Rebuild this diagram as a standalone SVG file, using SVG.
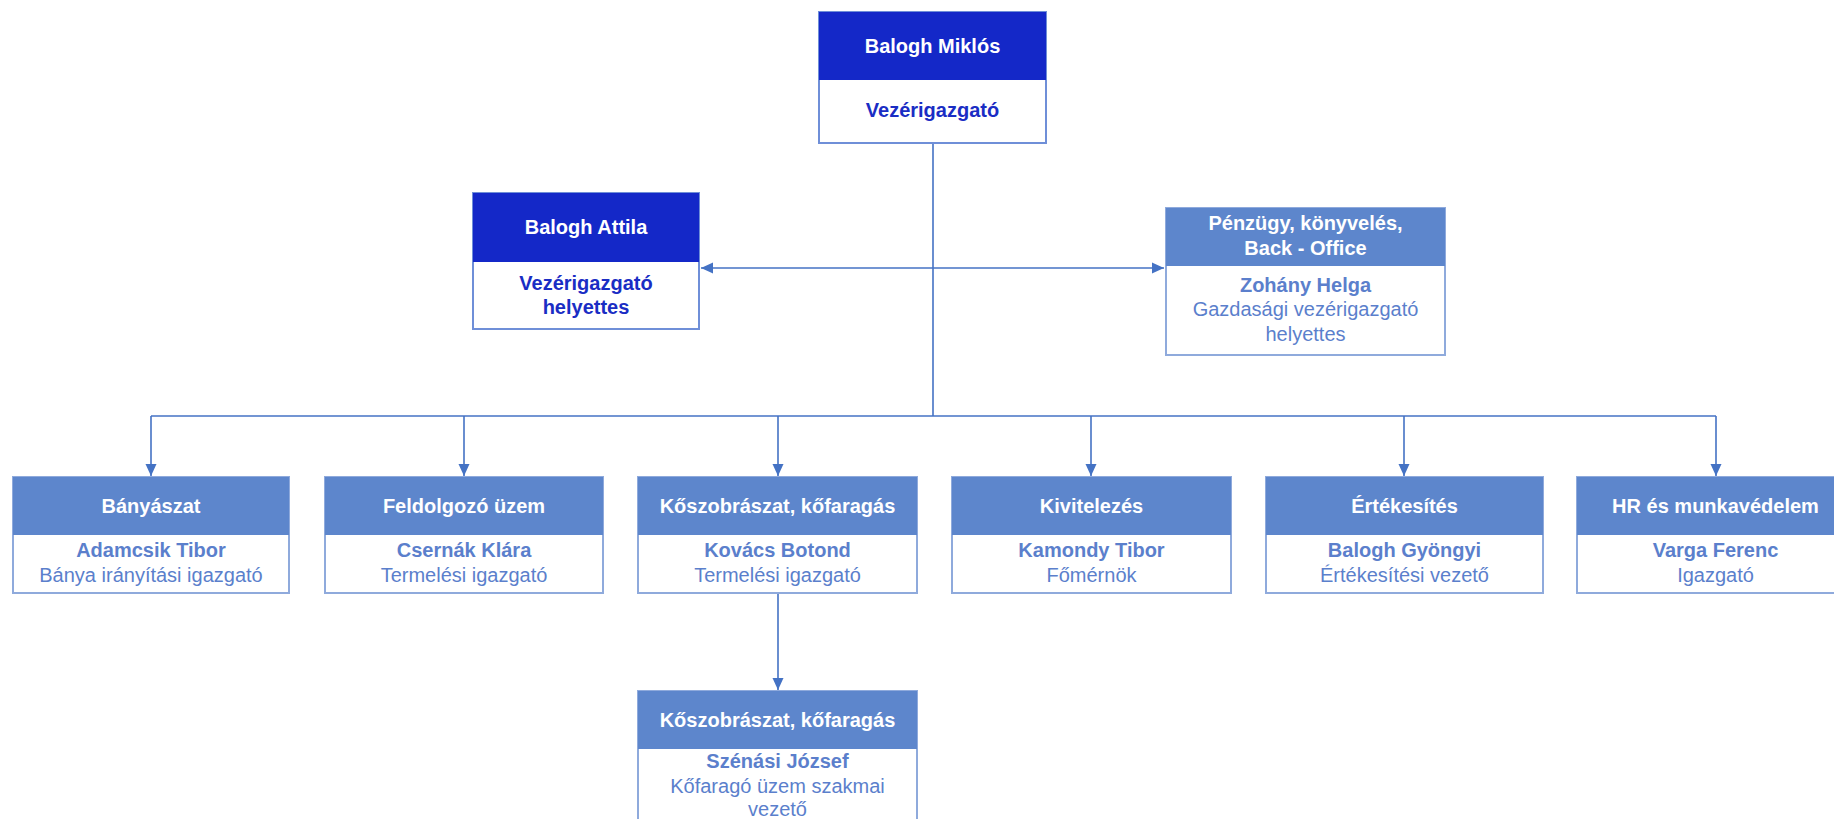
<svg xmlns="http://www.w3.org/2000/svg" width="1834" height="819" viewBox="0 0 1834 819">
<defs>
<marker id="arr" viewBox="0 0 12 12" refX="12" refY="6" markerWidth="12" markerHeight="12" markerUnits="userSpaceOnUse" orient="auto-start-reverse">
<path d="M0,0.5 L12,6 L0,11.5 Z" fill="#4472C4"/>
</marker>
<style>
.hd-dark{fill:#1428C8}
.hd{fill:#5D86CC}
.bx{fill:#ffffff;stroke:#8FAADC;stroke-width:2}
.bxd{fill:#ffffff;stroke:#6F8FD8;stroke-width:2}
text{font-family:"Liberation Sans",Arial,sans-serif;font-size:20px;text-anchor:middle}
.w{fill:#ffffff;font-weight:bold}
.db{fill:#1A2DC4;font-weight:bold}
.nm{fill:#5B7FCC;font-weight:bold}
.ti{fill:#5B7FCC}
.cn{fill:none;stroke:#4472C4;stroke-width:1.6}
</style>
</defs>
<rect width="1834" height="819" fill="#ffffff"/>

<g id="connectors">
<path class="cn" d="M933,143 V416"/>
<path class="cn" d="M701,268 H1164" marker-start="url(#arr)" marker-end="url(#arr)"/>
<path class="cn" d="M151,416 H1716"/>
<path class="cn" d="M151,416 V476" marker-end="url(#arr)"/>
<path class="cn" d="M464,416 V476" marker-end="url(#arr)"/>
<path class="cn" d="M778,416 V476" marker-end="url(#arr)"/>
<path class="cn" d="M1091,416 V476" marker-end="url(#arr)"/>
<path class="cn" d="M1404,416 V476" marker-end="url(#arr)"/>
<path class="cn" d="M1716,416 V476" marker-end="url(#arr)"/>
<path class="cn" d="M778,593 V690" marker-end="url(#arr)"/>
</g>

<g id="node-ceo">
<rect class="bxd" x="819" y="12" width="227" height="131"/>
<rect class="hd-dark" x="819" y="12" width="227" height="68"/>
<text class="w" x="932.5" y="53">Balogh Miklós</text>
<text class="db" x="932.5" y="117">Vezérigazgató</text>
</g>

<g id="node-deputy">
<rect class="bxd" x="473" y="193" width="226" height="136"/>
<rect class="hd-dark" x="473" y="193" width="226" height="69"/>
<text class="w" x="586" y="234">Balogh Attila</text>
<text class="db" x="586" y="290">Vezérigazgató</text>
<text class="db" x="586" y="314">helyettes</text>
</g>

<g id="node-finance">
<rect class="bx" x="1166" y="208" width="279" height="147"/>
<rect class="hd" x="1166" y="208" width="279" height="58"/>
<text class="w" x="1305.5" y="230">Pénzügy, könyvelés,</text>
<text class="w" x="1305.5" y="255">Back - Office</text>
<text class="nm" x="1305.5" y="292">Zohány Helga</text>
<text class="ti" x="1305.5" y="316">Gazdasági vezérigazgató</text>
<text class="ti" x="1305.5" y="341">helyettes</text>
</g>

<g id="node-banyaszat">
<rect class="bx" x="13" y="477" width="276" height="116"/>
<rect class="hd" x="13" y="477" width="276" height="58"/>
<text class="w" x="151" y="513">Bányászat</text>
<text class="nm" x="151" y="557">Adamcsik Tibor</text>
<text class="ti" x="151" y="582">Bánya irányítási igazgató</text>
</g>

<g id="node-feldolgozo">
<rect class="bx" x="325" y="477" width="278" height="116"/>
<rect class="hd" x="325" y="477" width="278" height="58"/>
<text class="w" x="464" y="513">Feldolgozó üzem</text>
<text class="nm" x="464" y="557">Csernák Klára</text>
<text class="ti" x="464" y="582">Termelési igazgató</text>
</g>

<g id="node-koszobraszat">
<rect class="bx" x="638" y="477" width="279" height="116"/>
<rect class="hd" x="638" y="477" width="279" height="58"/>
<text class="w" x="777.5" y="513">Kőszobrászat, kőfaragás</text>
<text class="nm" x="777.5" y="557">Kovács Botond</text>
<text class="ti" x="777.5" y="582">Termelési igazgató</text>
</g>

<g id="node-kivitelezes">
<rect class="bx" x="952" y="477" width="279" height="116"/>
<rect class="hd" x="952" y="477" width="279" height="58"/>
<text class="w" x="1091.5" y="513">Kivitelezés</text>
<text class="nm" x="1091.5" y="557">Kamondy Tibor</text>
<text class="ti" x="1091.5" y="582">Főmérnök</text>
</g>

<g id="node-ertekesites">
<rect class="bx" x="1266" y="477" width="277" height="116"/>
<rect class="hd" x="1266" y="477" width="277" height="58"/>
<text class="w" x="1404.5" y="513">Értékesítés</text>
<text class="nm" x="1404.5" y="557">Balogh Gyöngyi</text>
<text class="ti" x="1404.5" y="582">Értékesítési vezető</text>
</g>

<g id="node-hr">
<rect class="bx" x="1577" y="477" width="277" height="116"/>
<rect class="hd" x="1577" y="477" width="277" height="58"/>
<text class="w" x="1715.5" y="513">HR és munkavédelem</text>
<text class="nm" x="1715.5" y="557">Varga Ferenc</text>
<text class="ti" x="1715.5" y="582">Igazgató</text>
</g>

<g id="node-koszobraszat-2">
<rect class="bx" x="638" y="691" width="279" height="150"/>
<rect class="hd" x="638" y="691" width="279" height="58"/>
<text class="w" x="777.5" y="727">Kőszobrászat, kőfaragás</text>
<text class="nm" x="777.5" y="768">Szénási József</text>
<text class="ti" x="777.5" y="793">Kőfaragó üzem szakmai</text>
<text class="ti" x="777.5" y="816">vezető</text>
</g>
</svg>
